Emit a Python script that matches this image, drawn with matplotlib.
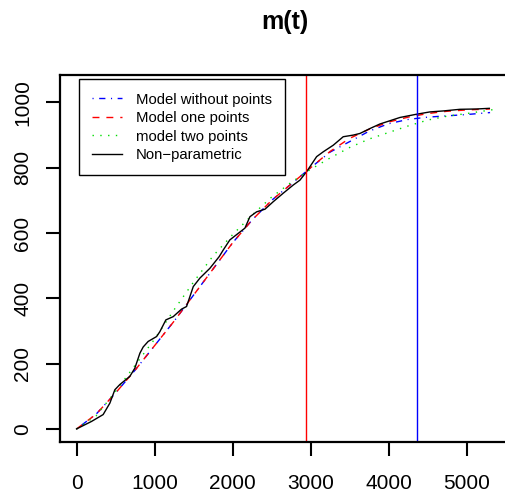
import matplotlib
matplotlib.use('Agg')
import matplotlib.pyplot as plt
import numpy as np

plt.rcParams['font.family'] = ['Liberation Sans', 'DejaVu Sans']

# non-parametric estimate
np_t = [0, 192, 341, 427, 491, 555, 683, 747, 812, 854, 918, 1026, 1068, 1145,
        1239, 1346, 1410, 1496, 1581, 1709, 1829, 1880, 1965, 2072, 2158, 2222,
        2308, 2415, 2521, 2649, 2777, 2863, 2949, 3077, 3163, 3290, 3418, 3546,
        3632, 3760, 3888, 4017, 4145, 4359, 4529, 4700, 4914, 5128, 5290]
np_m = [0, 23, 44, 79, 120, 136, 161, 186, 232, 251, 268, 283, 298, 334,
        344, 367, 375, 436, 462, 492, 528, 548, 579, 599, 615, 650,
        665, 673, 696, 722, 747, 762, 788, 834, 849, 869, 895, 900,
        905, 920, 934, 944, 954, 964, 971, 974, 979, 980, 982]

# fitted models
mod_t = [0, 250, 500, 750, 1000, 1250, 1500, 1750, 2000, 2250, 2500, 2750,
         3000, 3250, 3500, 3750, 4000, 4250, 4500, 4750, 5000, 5300]
m_without = [0, 45, 110, 180, 255, 330, 410, 490, 570, 640, 700, 750,
             800, 848, 880, 912, 935, 948, 955, 959, 963, 969]
m_one = [0, 45, 110, 180, 255, 330, 410, 490, 570, 640, 700, 750,
         800, 850, 890, 918, 940, 955, 966, 973, 977, 980]
two_t = [0, 250, 500, 750, 1000, 1250, 1500, 1750, 2000, 2250, 2500, 2750,
         3000, 3250, 3500, 3750, 4000, 4250, 4500, 4750, 5000, 5340]
m_two = [0, 40, 115, 195, 275, 365, 450, 530, 595, 655, 710, 755,
         795, 830, 862, 888, 908, 928, 946, 958, 966, 978]

vline_red = 2936
vline_blue = 4359

fig = plt.figure(figsize=(5.05, 4.94), dpi=100)
ax = fig.add_axes([60 / 505, 52 / 494, 446.6 / 505, 367.3 / 494])

ax.plot(mod_t, m_without, color='blue', lw=1, dashes=(0.8, 4, 4.5, 4), label='Model without points')
ax.plot(mod_t, m_one, color='red', lw=1, dashes=(5, 5), label='Model one points')
ax.plot(two_t, m_two, color='#00dd00', lw=1, dashes=(1, 4.6), label='model two points')
ax.plot(np_t, np_m, color='black', lw=1, label='Non\u2212parametric')

ax.axvline(vline_red, color='red', lw=1)
ax.axvline(vline_blue, color='blue', lw=1)

ax.set_xlim(-212, 5512)
ax.set_ylim(-40, 1085)
ax.set_xticks([0, 1000, 2000, 3000, 4000, 5000])
ax.set_yticks([0, 200, 400, 600, 800, 1000])

for s in ax.spines.values():
    s.set_linewidth(1.6)
ax.tick_params(axis='both', length=10, width=1.5, labelsize=15)
ax.tick_params(axis='x', pad=13)
ax.tick_params(axis='y', pad=10)
for lab in ax.get_yticklabels():
    lab.set_rotation(90)
    lab.set_va('center')

leg = ax.legend(loc='upper left', bbox_to_anchor=(78.7 / 505, 1 - 79.3 / 494),
                bbox_transform=fig.transFigure, fontsize=10.7, frameon=True,
                fancybox=False, edgecolor='black', framealpha=1, borderpad=0.9,
                handlelength=2.0, handletextpad=0.95, labelspacing=0.3,
                borderaxespad=0)
leg.get_frame().set_linewidth(1.0)

fig.text(285 / 505, 1 - 22 / 494, 'm(t)', ha='center', va='center',
         fontsize=18, fontweight='bold')

fig.savefig('out.png', dpi=100)
